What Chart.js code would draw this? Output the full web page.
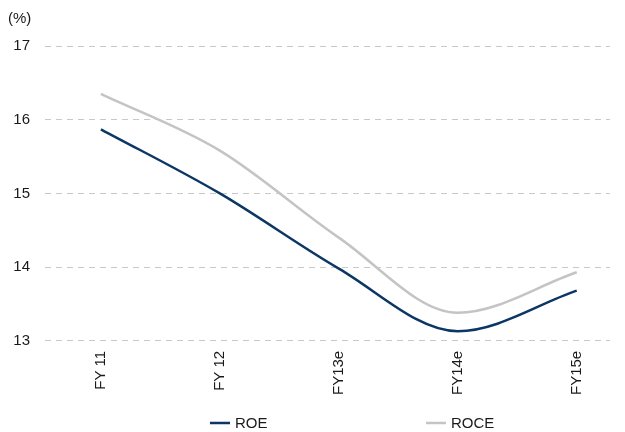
<!DOCTYPE html>
<html>
<head>
<meta charset="utf-8">
<script src="https://cdn.jsdelivr.net/npm/chart.js@4/dist/chart.umd.min.js"></script>
<style>
  html, body { margin: 0; padding: 0; background: #ffffff; }
  #wrap { width: 625px; height: 432px; }
</style>
</head>
<body>
<div id="wrap"><canvas id="c" width="625" height="432"></canvas></div>
<script>
// Fiscal years on the x axis
const categories = ['FY 11', 'FY 12', 'FY13e', 'FY14e', 'FY15e'];
// Return on equity, %
const roe = [15.87, 15.0, 13.98, 13.13, 13.68];
// Return on capital employed, %
const roce = [16.35, 15.58, 14.4, 13.38, 13.93];
// Y axis ticks, %
const yTicks = [13, 14, 15, 16, 17];

const NAVY = '#0c3764';
const GREY = '#c4c4c4';
const FONT = "'Liberation Sans', Arial, sans-serif";

const toPoints = arr => arr.map((v, i) => ({ x: i, y: v }));

// Legend drawn under the plot: short line swatch followed by the series name
const bottomLegend = {
  id: 'bottomLegend',
  afterDraw(chart) {
    const ctx = chart.ctx;
    const items = [
      { label: 'ROE', color: NAVY, x: 210 },
      { label: 'ROCE', color: GREY, x: 426 }
    ];
    const y = 423;
    ctx.save();
    ctx.font = '15px ' + FONT;
    ctx.textBaseline = 'middle';
    ctx.textAlign = 'left';
    items.forEach(it => {
      ctx.strokeStyle = it.color;
      ctx.lineWidth = 2.5;
      ctx.beginPath();
      ctx.moveTo(it.x, y);
      ctx.lineTo(it.x + 20, y);
      ctx.stroke();
      ctx.fillStyle = '#1a1a1a';
      ctx.fillText(it.label, it.x + 25, y + 1);
    });
    ctx.restore();
  }
};

new Chart(document.getElementById('c'), {
  type: 'line',
  data: {
    datasets: [
      {
        label: 'ROE',
        data: toPoints(roe),
        borderColor: NAVY,
        borderWidth: 2.5,
        pointRadius: 0,
        cubicInterpolationMode: 'monotone',
        fill: false
      },
      {
        label: 'ROCE',
        data: toPoints(roce),
        borderColor: GREY,
        borderWidth: 2.5,
        pointRadius: 0,
        cubicInterpolationMode: 'monotone',
        fill: false
      }
    ]
  },
  options: {
    responsive: false,
    animation: false,
    layout: { padding: { left: 8, right: 15, top: 0, bottom: 27 } },
    plugins: {
      legend: { display: false },
      tooltip: { enabled: false },
      title: {
        display: true,
        text: '(%)',
        align: 'start',
        color: '#1a1a1a',
        font: { family: FONT, size: 15, weight: 'normal' },
        padding: { top: 10, bottom: 18 }
      }
    },
    scales: {
      x: {
        type: 'linear',
        min: -0.47,
        max: 4.28,
        grid: { display: false, drawTicks: false },
        border: { display: false },
        ticks: {
          includeBounds: false,
          stepSize: 1,
          autoSkip: false,
          minRotation: 90,
          maxRotation: 90,
          padding: 10,
          color: '#1a1a1a',
          font: { family: FONT, size: 15 },
          callback: v => (Number.isInteger(v) && categories[v] !== undefined) ? categories[v] : null
        }
      },
      y: {
        min: yTicks[0],
        max: yTicks[yTicks.length - 1],
        afterBuildTicks: scale => { scale.ticks = yTicks.map(v => ({ value: v })); },
        afterFit: scale => { scale.width = 37; },
        grid: {
          color: '#c8c8c8',
          lineWidth: 1,
          drawTicks: false
        },
        border: { display: false, dash: [6, 5] },
        ticks: {
          padding: 15,
          color: '#1a1a1a',
          font: { family: FONT, size: 15 }
        }
      }
    }
  },
  plugins: [bottomLegend]
});
</script>
</body>
</html>
